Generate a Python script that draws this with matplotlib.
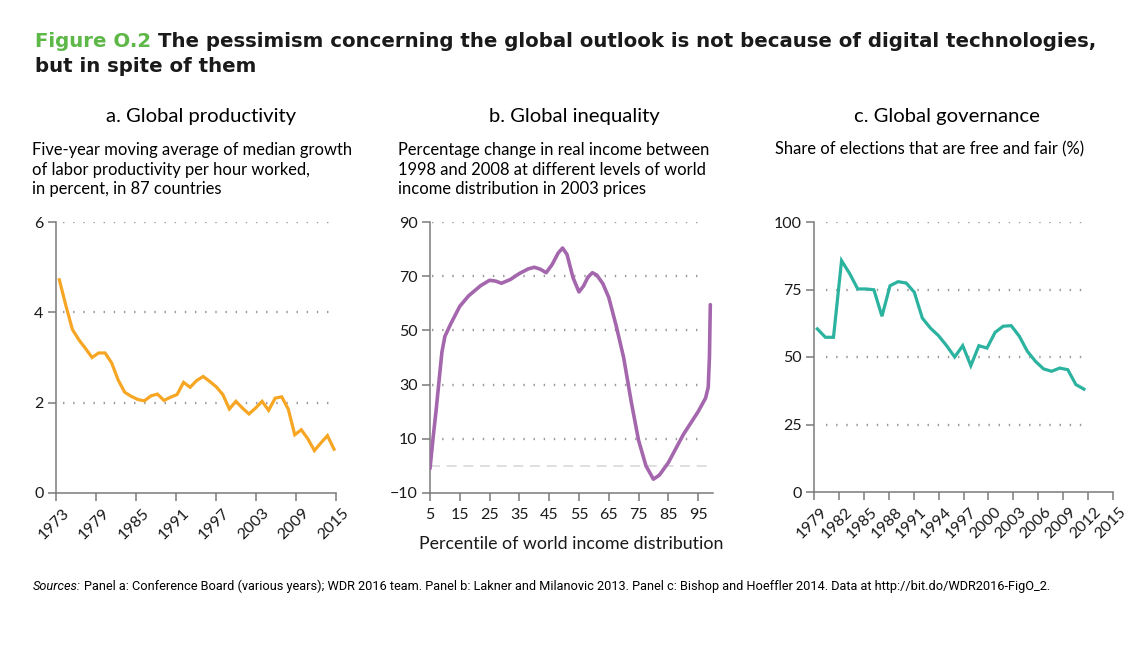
import matplotlib
matplotlib.use("Agg")
import matplotlib.pyplot as plt
import matplotlib.transforms as mtransforms
import numpy as np

# panel a: five-year moving average of median labor productivity growth (%)
prod_years = list(range(1973, 2016))
prod_growth = [4.72, 4.15, 3.62, 3.39, 3.2, 3.0, 3.1, 3.1, 2.88, 2.5,
               2.23, 2.14, 2.07, 2.04, 2.15, 2.19, 2.05, 2.12, 2.18, 2.45,
               2.34, 2.49, 2.58, 2.47, 2.35, 2.18, 1.86, 2.03, 1.88, 1.75,
               1.88, 2.03, 1.83, 2.1, 2.13, 1.86, 1.29, 1.40, 1.2, 0.94,
               1.11, 1.27, 0.97]
prod_ticks = [1973, 1979, 1985, 1991, 1997, 2003, 2009, 2015]

# panel b: elephant curve, % change in real income 1998-2008
pct = [5, 6, 7, 8, 9, 10, 12, 15, 18, 22, 25, 27, 29, 32, 35, 38, 40, 42,
       44, 46, 48, 49.5, 51, 53, 55, 56.5, 58, 59.5, 61, 63, 65, 67.5, 70,
       72.5, 75, 77.5, 80, 82, 85, 90, 95, 97.5, 98.4, 98.8, 99.1]
income_change = [-1, 10, 20, 31, 42, 47.8, 52.5, 58.9, 62.8, 66.5, 68.5,
                 68.2, 67.4, 68.8, 71, 72.7, 73.3, 72.6, 71.3, 74.3, 78.5,
                 80.4, 78, 69.5, 64.2, 66.3, 69.6, 71.3, 70.4, 67.3, 62.2,
                 51.7, 40, 24, 9.5, 0, -4.9, -3.4, 1.2, 11.5, 20, 25, 29,
                 40, 59.5]
pct_ticks = [5, 15, 25, 35, 45, 55, 65, 75, 85, 95]

# panel c: share of elections that are free and fair (%)
elec_years = list(range(1979, 2013))
free_fair = [60.4, 57.3, 57.3, 85.7, 80.9, 75.2, 75.2, 74.9, 65.1, 76.4,
             77.9, 77.4, 74, 64.4, 60.7, 57.9, 54.2, 50, 54.2, 46.8, 54.2,
             53.3, 59.1, 61.4, 61.6, 57.7, 52.1, 48.4, 45.6, 44.7, 45.9,
             45.3, 39.8, 38.1]
elec_ticks = list(range(1979, 2016, 3))

ORANGE = "#F6A623"
PURPLE = "#A466AC"
TEAL = "#2BB3A0"
GREEN = "#5DB848"
SPINE = "#7a7a7a"
FONT = "Lato"

plt.rcParams["font.family"] = [FONT, "DejaVu Sans"]

fig = plt.figure(figsize=(11.39, 6.45), dpi=100)
W, H = 1139, 645


def box(l, r, t, b):
    return [l / W, 1 - b / H, (r - l) / W, (b - t) / H]


def style(ax, rotate):
    for s in ["top", "right"]:
        ax.spines[s].set_visible(False)
    for s in ["left", "bottom"]:
        ax.spines[s].set_color(SPINE)
        ax.spines[s].set_linewidth(1.1)
    ax.tick_params(axis="both", direction="out", length=6, width=1.1,
                   color=SPINE, labelsize=11.5, labelcolor="#1a1a1a", pad=3)
    if rotate:
        off = mtransforms.ScaledTranslation(6 / 100, 0, fig.dpi_scale_trans)
        for lab in ax.get_xticklabels():
            lab.set_rotation(45)
            lab.set_ha("right")
            lab.set_va("top")
            lab.set_rotation_mode("anchor")
            lab.set_transform(lab.get_transform() + off)


def dotted_grid(ax, ys, x0, x1):
    ax.hlines(ys, x0, x1, colors="#9a9a9a", linewidth=1.7,
              linestyles=(0, (0.6, 3.7)), zorder=1)


# ---- panel a
ax1 = fig.add_axes(box(56, 336, 222, 493))
x1 = np.linspace(1973.5, 2014.7, len(prod_years))
ax1.plot(x1, prod_growth, color=ORANGE, lw=2.3, solid_joinstyle="miter", zorder=3)
ax1.set_xlim(1973, 2015)
ax1.set_ylim(0, 6)
ax1.set_yticks([0, 2, 4, 6])
ax1.set_xticks(prod_ticks)
dotted_grid(ax1, [2, 4, 6], 1974.1, 2015.3)
style(ax1, True)

# ---- panel b
ax2 = fig.add_axes(box(430, 713, 222, 493))
ax2.hlines(0, 5, 100, colors="#d9d9d9", linewidth=1.2, linestyles=(0, (6, 4)), zorder=1)
ax2.plot(pct, income_change, color=PURPLE, lw=2.6, solid_joinstyle="round",
         solid_capstyle="round", zorder=3)
ax2.set_xlim(5, 100)
ax2.set_ylim(-10, 90)
ax2.set_yticks([-10, 10, 30, 50, 70, 90])
ax2.set_yticklabels(["\u221210", "10", "30", "50", "70", "90"])
ax2.set_xticks(pct_ticks)
dotted_grid(ax2, [10, 30, 50, 70, 90], 5.6, 97.3)
style(ax2, False)
ax2.tick_params(axis="x", pad=5)
ax2.set_xlabel("Percentile of world income distribution", fontsize=12.8,
               labelpad=10, color="#1a1a1a")

# ---- panel c
ax3 = fig.add_axes(box(814, 1113, 222, 492))
x3 = np.linspace(1979.4, 2011.5, len(elec_years))
ax3.plot(x3, free_fair, color=TEAL, lw=2.3, solid_joinstyle="miter", zorder=3)
ax3.set_xlim(1979, 2015)
ax3.set_ylim(0, 100)
ax3.set_yticks([0, 25, 50, 75, 100])
ax3.set_xticks(elec_ticks)
dotted_grid(ax3, [25, 50, 75, 100], 1980.5, 2012.1)
style(ax3, True)

# ---- headings
fig.text(201 / W, 1 - 122 / H, "a. Global productivity", ha="center",
         va="baseline", fontsize=14.6)
fig.text(574 / W, 1 - 122 / H, "b. Global inequality", ha="center",
         va="baseline", fontsize=14.6)
fig.text(947 / W, 1 - 122 / H, "c. Global governance", ha="center",
         va="baseline", fontsize=14.6)

sub_kw = dict(ha="left", va="baseline", fontsize=11.9, linespacing=1.25)
fig.text(32 / W, 1 - 194 / H,
         "Five-year moving average of median growth\n"
         "of labor productivity per hour worked,\n"
         "in percent, in 87 countries", **sub_kw)
fig.text(398 / W, 1 - 194 / H,
         "Percentage change in real income between\n"
         "1998 and 2008 at different levels of world\n"
         "income distribution in 2003 prices", **sub_kw)
fig.text(775 / W, 1 - 154 / H, "Share of elections that are free and fair (%)",
         **sub_kw)

# ---- figure title (green label + black text)
title_kw = dict(fontsize=14.2, fontweight="bold", family=["DejaVu Sans"],
                va="baseline")
t0 = fig.text(35 / W, 1 - 47 / H, "Figure O.2", color=GREEN, **title_kw)
fig.canvas.draw()
bb = t0.get_window_extent()
fig.text((bb.x1 + 7) / W, 1 - 47 / H,
         "The pessimism concerning the global outlook is not because of digital technologies,",
         color="#1a1a1a", **title_kw)
fig.text(35 / W, 1 - 72 / H, "but in spite of them", color="#1a1a1a", **title_kw)

# ---- sources
src_font = ["Roboto", "DejaVu Sans"]
s0 = fig.text(33 / W, 1 - 590 / H, "Sources:", style="italic", fontsize=9.2,
              family=src_font, va="baseline")
fig.canvas.draw()
bb = s0.get_window_extent()
fig.text((bb.x1 + 3) / W, 1 - 590 / H,
         "Panel a: Conference Board (various years); WDR 2016 team. Panel b: Lakner and "
         "Milanovic 2013. Panel c: Bishop and Hoeffler 2014. Data at http://bit.do/WDR2016-FigO_2.",
         fontsize=9.2, family=src_font, va="baseline")

fig.savefig("out.png", dpi=100)
